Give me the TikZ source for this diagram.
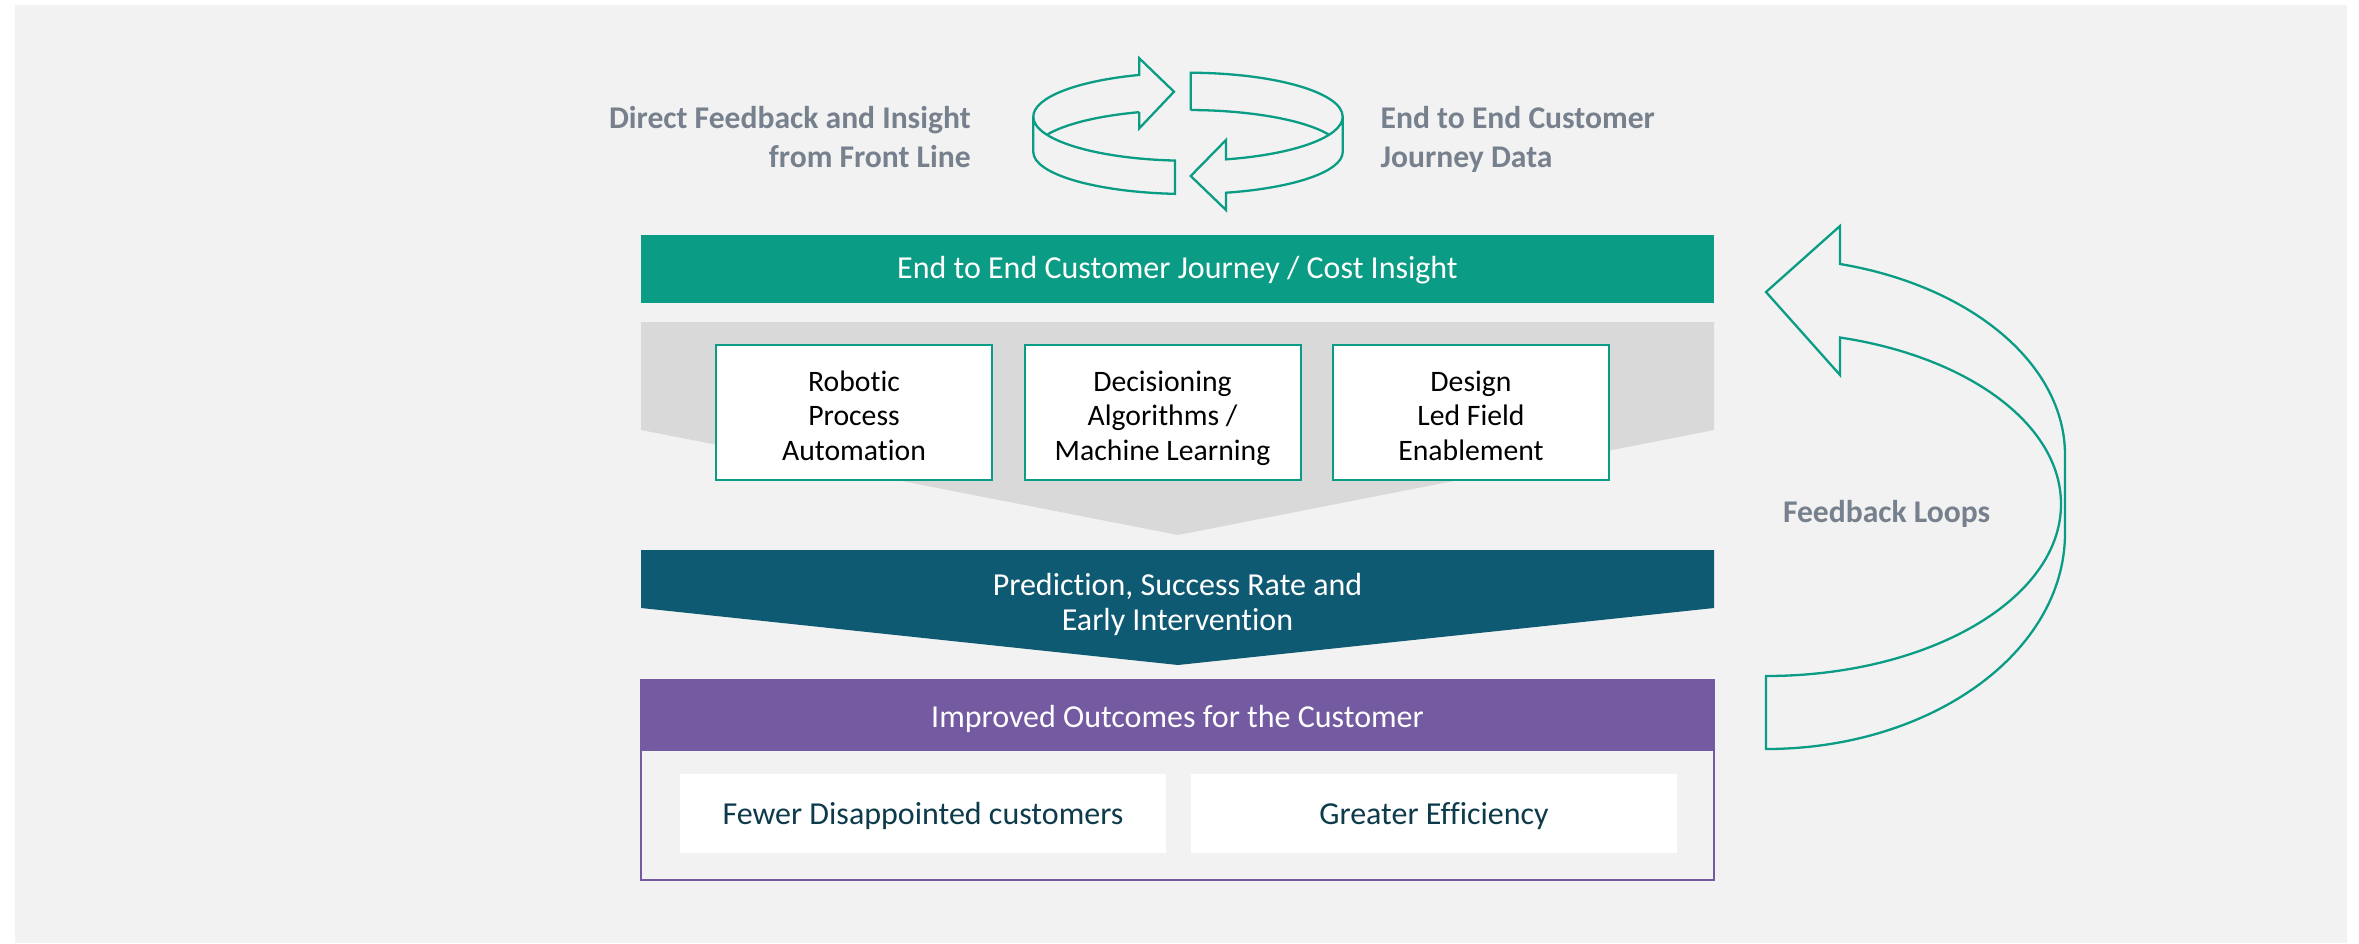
\documentclass[tikz,border=0pt]{standalone}
\usepackage{fontspec}
\setmainfont{Carlito}[Ligatures=NoCommon]
\usetikzlibrary{calc}

\definecolor{bggray}{HTML}{F2F2F2}
\definecolor{chevgray}{HTML}{D9D9D9}
\definecolor{jadegreen}{HTML}{0A9C84}
\definecolor{deepteal}{HTML}{0E5A72}
\definecolor{violet1}{HTML}{735AA1}
\definecolor{labelgray}{HTML}{77808D}
\definecolor{darkink}{HTML}{0D3B4B}

\begin{document}
\begin{tikzpicture}[x=1pt,y=1pt,
  every node/.style={inner sep=0pt, outer sep=0pt},
  ringline/.style={draw=jadegreen, line width=2.3pt, line join=miter},
  sidelabel/.style={text=labelgray, font=\fontsize{31.6}{39}\selectfont\bfseries},
  whitetitle/.style={text=white, font=\fontsize{32}{35}\selectfont, align=center},
  toolbox/.style={draw=jadegreen, line width=2pt, fill=white, minimum width=276pt,
    minimum height=135pt},
  tooltext/.style={align=center, font=\fontsize{29.7}{34.5}\selectfont},
  outcomebox/.style={fill=white, minimum width=486pt, minimum height=79pt,
    text=darkink, font=\fontsize{32}{35}\selectfont, text height=25pt, text depth=4pt}
]
\useasboundingbox (0,0) rectangle (2359,-943);
\fill[bggray] (15,-5) rectangle (2347,-943);

% ---- circular exchange arrows (an elliptical ribbon) ----
\coordinate (Ea) at (1188,-116.7); % centre of upper rim
\coordinate (Eb) at (1188,-152);   % centre of lower rim
% left half, head pointing right at the back
\draw[ringline]
  ([shift={(Eb)}]108.4:154.7pt and 42pt) -- (1139.3,-128.3) -- (1174,-91.7)
  -- (1139.3,-58.3) -- ([shift={(Ea)}]108.4:154.7pt and 44pt)
  arc[start angle=108.4, end angle=180, x radius=154.7pt, y radius=44pt]
  -- ([shift={(Eb)}]180:154.7pt and 42pt)
  arc[start angle=180, end angle=265.2, x radius=154.7pt, y radius=42pt]
  -- ([shift={(Ea)}]265.2:154.7pt and 44pt)
  arc[start angle=265.2, end angle=180, x radius=154.7pt, y radius=44pt];
\draw[ringline] ([shift={(Eb)}]108.4:154.7pt and 42pt)
  arc[start angle=108.4, end angle=155.8, x radius=154.7pt, y radius=42pt];
% right half, head pointing left at the front
\draw[ringline]
  ([shift={(Eb)}]89:154.7pt and 42pt) -- ([shift={(Ea)}]89:154.7pt and 44pt)
  arc[start angle=89, end angle=0, x radius=154.7pt, y radius=44pt]
  -- ([shift={(Eb)}]0:154.7pt and 42pt)
  arc[start angle=360, end angle=284.2, x radius=154.7pt, y radius=42pt]
  -- (1226,-210) -- (1190.7,-176) -- (1226,-140)
  -- ([shift={(Ea)}]284.2:154.7pt and 44pt)
  arc[start angle=284.2, end angle=360, x radius=154.7pt, y radius=44pt];
\draw[ringline] ([shift={(Eb)}]89:154.7pt and 42pt)
  arc[start angle=89, end angle=24.2, x radius=154.7pt, y radius=42pt];

% two-line labels: the base anchor sits on the last line
\node[sidelabel, align=right, anchor=base east] (frontline) at (970.7,-167.5)
  {Direct Feedback and Insight\\from Front Line};
\node[sidelabel, align=left, anchor=base west] (journeydata) at (1380.7,-167.5)
  {End to End Customer\\Journey Data};

% ---- insight bar ----
\node[fill=jadegreen, minimum width=1073pt, minimum height=68pt, whitetitle,
  text height=24pt, text depth=6pt] (insight)
  at (1177.5,-269) {End to End Customer Journey / Cost Insight};

% ---- grey chevron with the three enablers ----
\fill[chevgray] (641,-322) -- (1714,-322) -- (1714,-430) -- (1178,-535) -- (641,-430) -- cycle;
\node[toolbox] (rpa) at (854,-412.5) {};
\node[toolbox] (ml) at (1162.5,-412.5) {};
\node[toolbox] (design) at (1471,-412.5) {};
\node[tooltext, anchor=base] (rpatext) at ($(rpa.north)+(0,-115.2)$) {Robotic\\Process\\Automation};
\node[tooltext, anchor=base] (mltext) at ($(ml.north)+(0,-115.2)$) {Decisioning\\Algorithms /\\Machine Learning};
\node[tooltext, anchor=base] (designtext) at ($(design.north)+(0,-115.2)$) {Design\\Led Field\\Enablement};

% ---- prediction chevron ----
\fill[deepteal] (641,-550) -- (1714,-550) -- (1714,-608) -- (1178,-665) -- (641,-608) -- cycle;
\node[whitetitle, anchor=base] (predict) at (1177.5,-630) {Prediction, Success Rate and\\Early Intervention};

% ---- outcomes panel ----
\draw[violet1, line width=2pt, fill=bggray] (641,-680) rectangle (1714,-880);
\node[fill=violet1, minimum width=1073pt, minimum height=71pt, whitetitle,
  text height=27pt, text depth=3pt] (outcomes)
  at (1177.5,-715.5) {Improved Outcomes for the Customer};
\node[outcomebox] (fewer) at (923,-813.5) {Fewer Disappointed customers};
\node[outcomebox] (efficiency) at (1434,-813.5) {Greater Efficiency};

% ---- feedback loop arrow ----
\draw[ringline]
  (1766,-749) -- (1766,-676)
  arc[start angle=270, end angle=360, x radius=295pt, y radius=172pt]
  arc[start angle=0, end angle=75.47, x radius=295pt, y radius=172pt]
  -- (1840,-375) -- (1766,-292) -- (1840,-226) -- (1840,-264)
  arc[start angle=75.67, end angle=0, x radius=299pt, y radius=197.1pt]
  -- (2065,-533)
  arc[start angle=0, end angle=-90, x radius=299pt, y radius=216pt]
  -- cycle;
\node[sidelabel, anchor=base west] (loops) at (1783,-522.7) {Feedback Loops};
\end{tikzpicture}
\end{document}
